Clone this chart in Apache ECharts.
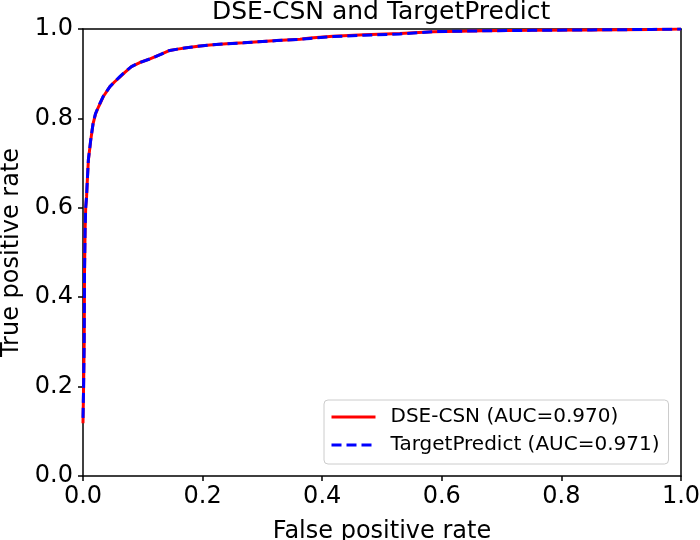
<!DOCTYPE html>
<html>
<head>
<meta charset="utf-8">
<script src="https://cdn.jsdelivr.net/npm/echarts@6/dist/echarts.min.js"></script>
<style>html,body{margin:0;padding:0;background:#fff;}#c{width:700px;height:540px;}</style>
</head>
<body>
<div id="c"></div>
<script>
const titleText = 'DSE-CSN and TargetPredict';
const xName = 'False positive rate';
const yName = 'True positive rate';
const seriesNames = ['DSE-CSN (AUC=0.970)', 'TargetPredict (AUC=0.971)'];
const xTicks = [0, 0.2, 0.4, 0.6, 0.8, 1.0];
const yTicks = [0, 0.2, 0.4, 0.6, 0.8, 1.0];

const fprCSN = [0, 0.001, 0.002, 0.0025, 0.0035, 0.0045, 0.006, 0.007, 0.009, 0.0117, 0.013, 0.017, 0.021, 0.026, 0.034, 0.045, 0.053, 0.062, 0.07, 0.081, 0.095, 0.112, 0.13, 0.145, 0.158, 0.173, 0.196, 0.212, 0.24, 0.268, 0.3, 0.324, 0.363, 0.38, 0.418, 0.47, 0.53, 0.585, 0.63, 0.669, 0.75, 0.85, 0.95, 1.0];
const tprCSN = [0.118, 0.2, 0.3, 0.45, 0.55, 0.6, 0.625, 0.655, 0.707, 0.737, 0.752, 0.789, 0.81, 0.826, 0.849, 0.871, 0.882, 0.893, 0.903, 0.916, 0.925, 0.933, 0.943, 0.952, 0.955, 0.958, 0.962, 0.964, 0.967, 0.969, 0.972, 0.974, 0.977, 0.980, 0.984, 0.987, 0.990, 0.994, 0.995, 0.996, 0.997, 0.998, 0.999, 1.0];

const fprTP = [0, 0.001, 0.002, 0.0025, 0.0035, 0.0045, 0.006, 0.007, 0.009, 0.0117, 0.013, 0.017, 0.021, 0.026, 0.034, 0.045, 0.053, 0.062, 0.07, 0.081, 0.095, 0.112, 0.13, 0.145, 0.158, 0.173, 0.196, 0.212, 0.24, 0.268, 0.3, 0.324, 0.363, 0.38, 0.418, 0.47, 0.53, 0.585, 0.63, 0.669, 0.75, 0.85, 0.95, 1.0];
const tprTP = [0.13, 0.2, 0.3, 0.45, 0.55, 0.6, 0.626, 0.656, 0.708, 0.738, 0.753, 0.790, 0.811, 0.827, 0.850, 0.871, 0.882, 0.894, 0.904, 0.916, 0.925, 0.933, 0.943, 0.952, 0.955, 0.958, 0.962, 0.964, 0.967, 0.969, 0.972, 0.974, 0.977, 0.979, 0.983, 0.986, 0.989, 0.994, 0.995, 0.996, 0.997, 0.998, 0.999, 1.0];

const FONT = 'DejaVu Sans';
const pairs = (xs, ys) => xs.map((x, i) => [x, ys[i]]);
const fmt = v => v.toFixed(1);

const chart = echarts.init(document.getElementById('c'), null, {renderer: 'canvas'});
const axisLineStyle = {color: '#000', width: 1.5};
chart.setOption({
  animation: false,
  backgroundColor: '#fff',
  title: {
    text: titleText,
    left: 212, top: 0, padding: 0,
    textStyle: {fontFamily: FONT, fontSize: 25, fontWeight: 'normal', color: '#000'}
  },
  grid: {left: 83, right: 19, top: 29, bottom: 64, containLabel: false, outerBoundsMode: 'none'},
  legend: {
    orient: 'vertical',
    left: 324, top: 400,
    padding: [7, 9, 9, 6],
    itemWidth: 44, itemHeight: 14, itemGap: 8,
    borderColor: '#cccccc', borderWidth: 1, borderRadius: 4,
    backgroundColor: 'rgba(255,255,255,0.8)',
    itemStyle: {opacity: 0},
    lineStyle: {width: 3},
    textStyle: {fontFamily: FONT, fontSize: 20, color: '#000', lineHeight: 20, padding: [0, 0, 0, 10]},
    data: seriesNames
  },
  xAxis: [{
    type: 'value', min: 0, max: 1, interval: 0.2,
    name: xName, nameLocation: 'middle', nameGap: 44,
    nameTextStyle: {fontFamily: FONT, fontSize: 24, color: '#000'},
    axisLine: {show: true, onZero: false, lineStyle: axisLineStyle},
    axisTick: {show: true, length: 5, lineStyle: axisLineStyle},
    axisLabel: {fontFamily: FONT, fontSize: 24, color: '#000', margin: 9, formatter: fmt},
    splitLine: {show: false}
  }, {
    type: 'value', min: 0, max: 1, position: 'top',
    axisLine: {show: true, onZero: false, lineStyle: axisLineStyle},
    axisTick: {show: false}, axisLabel: {show: false}, splitLine: {show: false}
  }],
  yAxis: [{
    type: 'value', min: 0, max: 1, interval: 0.2,
    name: yName, nameLocation: 'middle', nameGap: 54, nameRotate: 90,
    nameTextStyle: {fontFamily: FONT, fontSize: 24, color: '#000'},
    axisLine: {show: true, onZero: false, lineStyle: axisLineStyle},
    axisTick: {show: true, length: 5, lineStyle: axisLineStyle},
    axisLabel: {fontFamily: FONT, fontSize: 24, color: '#000', margin: 10, formatter: fmt},
    splitLine: {show: false}
  }, {
    type: 'value', min: 0, max: 1, position: 'right',
    axisLine: {show: true, onZero: false, lineStyle: axisLineStyle},
    axisTick: {show: false}, axisLabel: {show: false}, splitLine: {show: false}
  }],
  series: [{
    name: seriesNames[0], type: 'line', data: pairs(fprCSN, tprCSN),
    symbol: 'none', showSymbol: false, smooth: false, clip: true,
    lineStyle: {color: '#ff0000', width: 3, type: 'solid'},
    itemStyle: {color: '#ff0000'}
  }, {
    name: seriesNames[1], type: 'line', data: pairs(fprTP, tprTP),
    symbol: 'none', showSymbol: false, smooth: false, clip: true,
    lineStyle: {color: '#0000ff', width: 3, type: [10, 5]},
    itemStyle: {color: '#0000ff'}
  }]
});
</script>
</body>
</html>
